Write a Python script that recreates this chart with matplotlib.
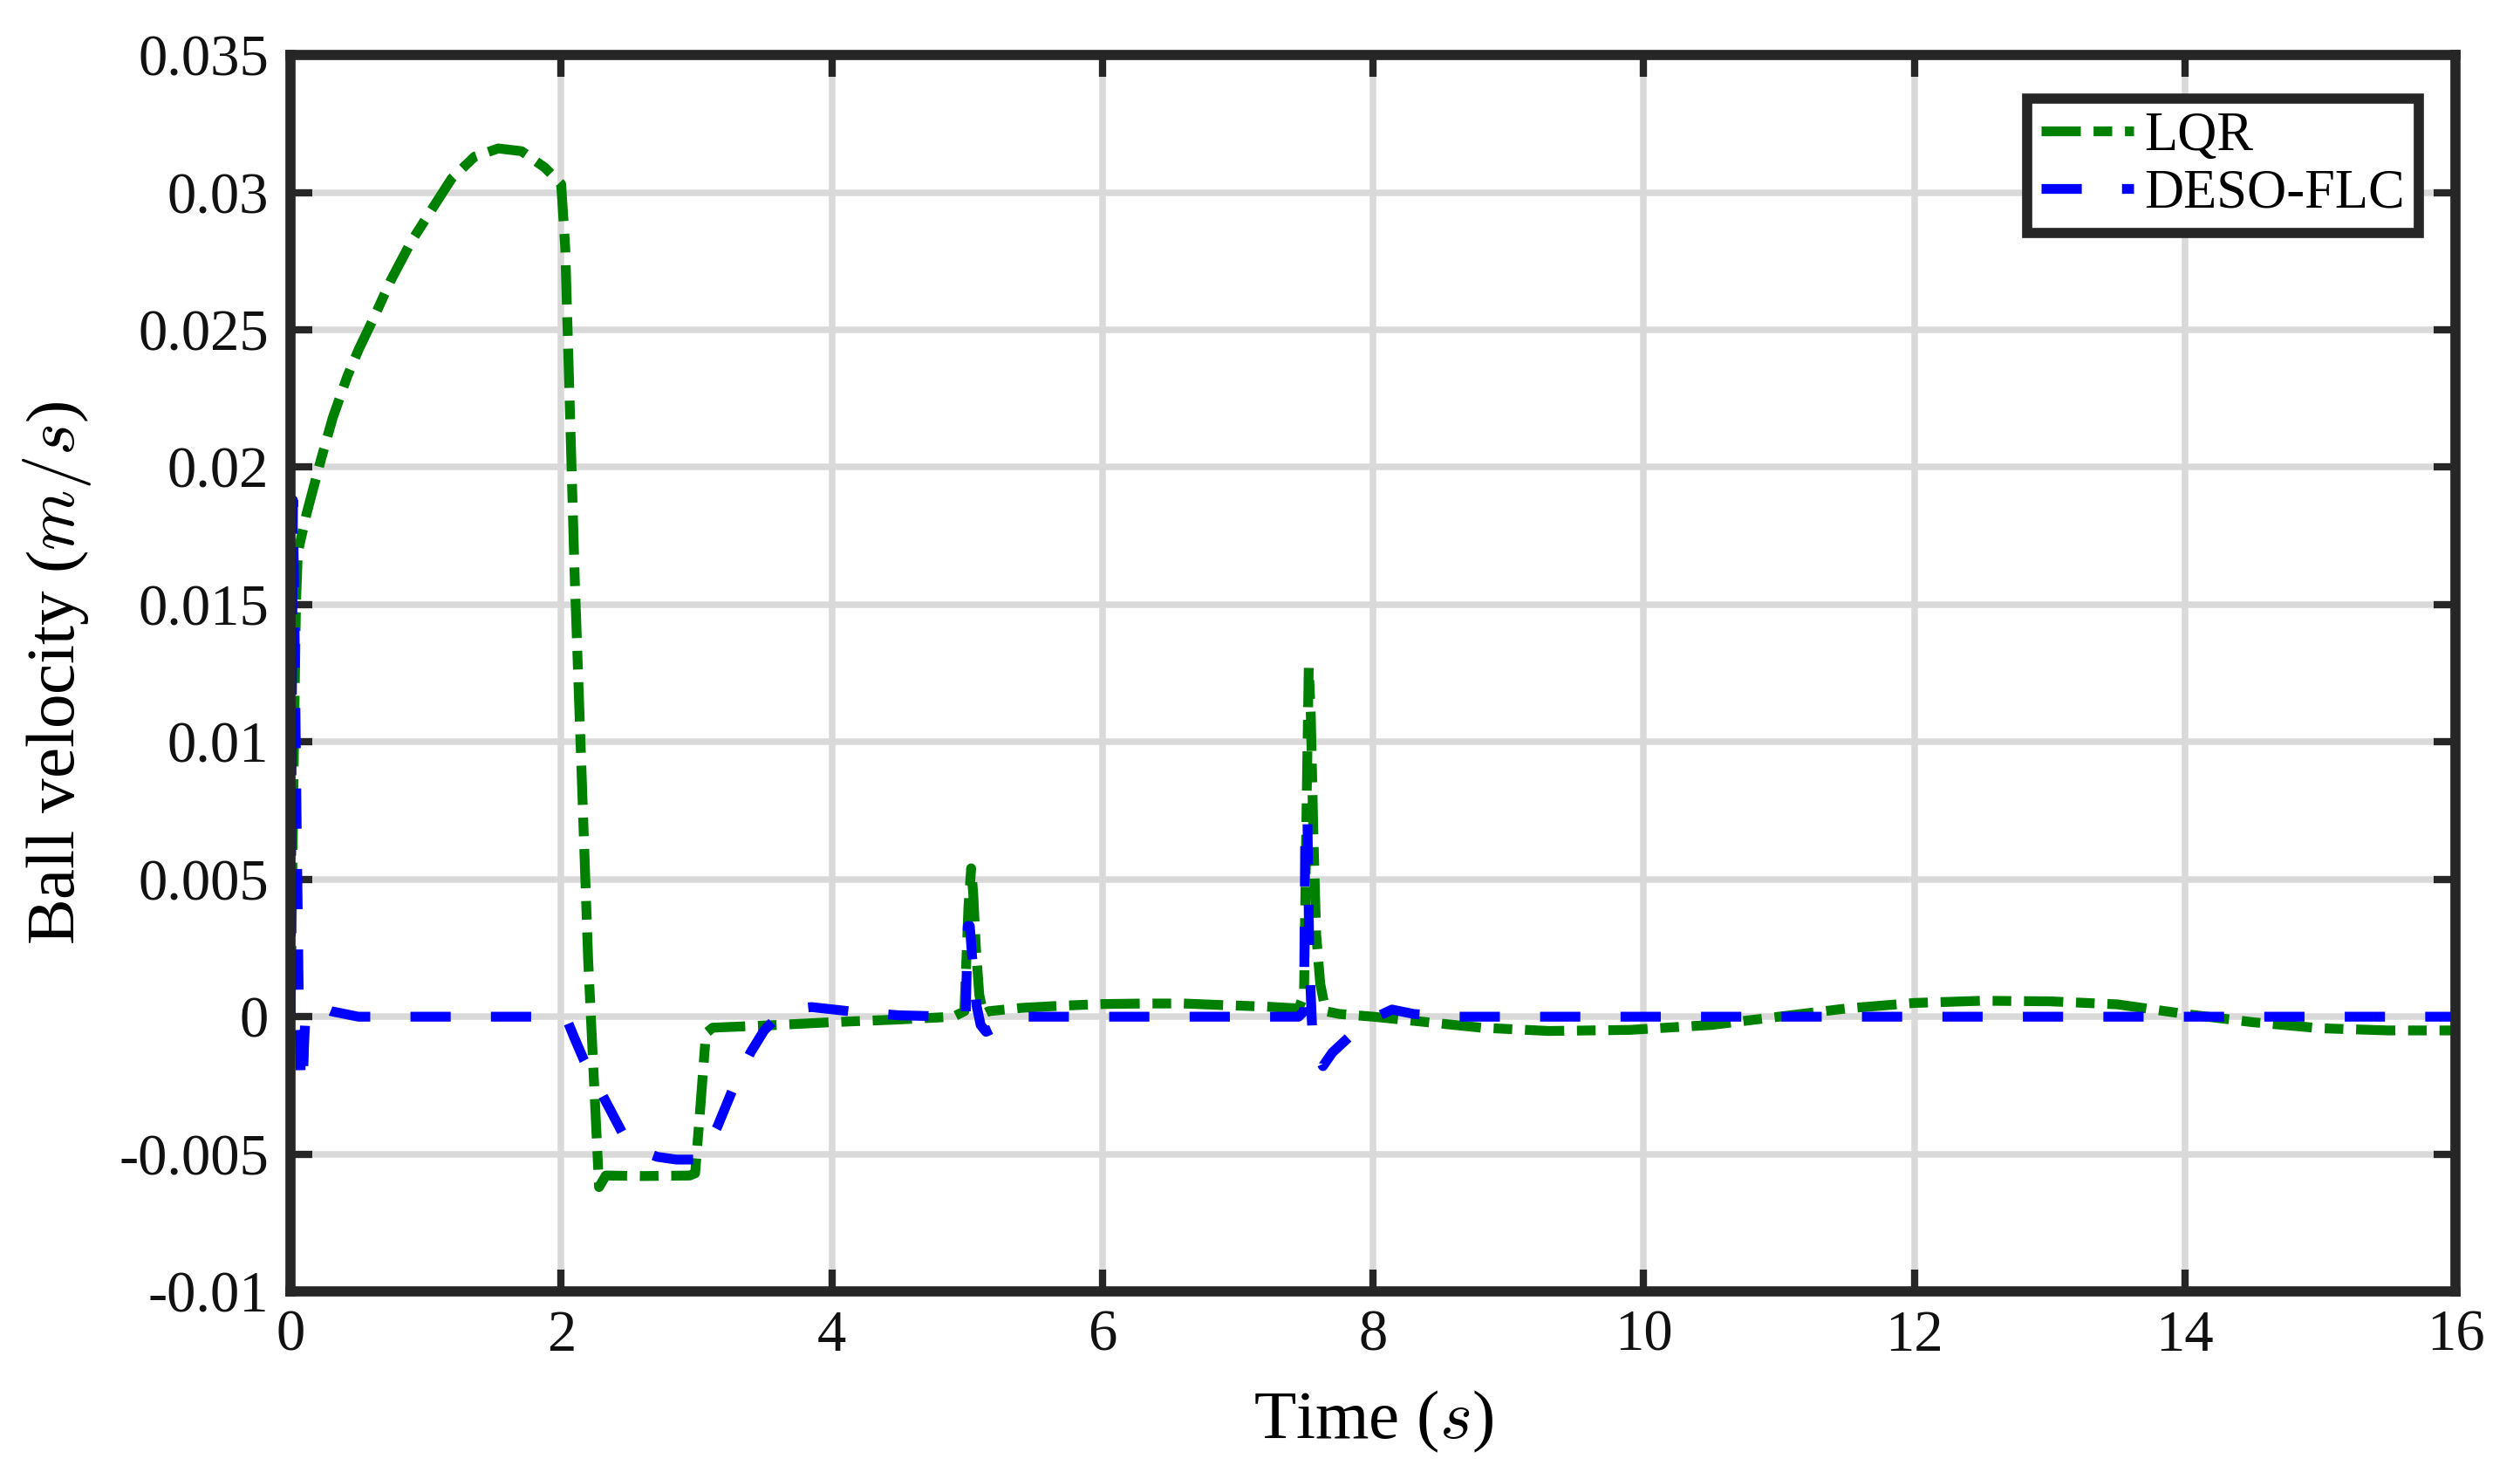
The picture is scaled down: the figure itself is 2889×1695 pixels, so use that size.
import matplotlib
matplotlib.use('Agg')
import matplotlib.pyplot as plt

plt.rcParams['font.family'] = ['Liberation Serif', 'DejaVu Serif']
plt.rcParams['mathtext.fontset'] = 'cm'

# LQR response
t_lqr = [0, 0.02, 0.04, 0.054, 0.118, 0.226, 0.312, 0.419, 0.505, 0.612, 0.741, 0.891,
         1.02, 1.19, 1.36, 1.535, 1.707, 1.88, 2.0, 2.03, 2.1, 2.2, 2.28, 2.33, 2.6,
         2.95, 2.99, 3.03, 3.07, 3.12, 3.6, 4.0, 4.5, 4.9, 4.98, 5.01, 5.03, 5.045,
         5.065, 5.09, 5.12, 5.16, 5.4, 5.7, 6.0, 6.3, 6.6, 6.9, 7.2, 7.45, 7.49, 7.51,
         7.525, 7.54, 7.56, 7.58, 7.61, 7.65, 7.75, 8.0, 8.4, 8.8, 9.3, 9.9, 10.5,
         11.0, 11.5, 12.0, 12.5, 13.0, 13.5, 14.0, 14.5, 15.0, 15.5, 16.0]
v_lqr = [0, 0.008, 0.015, 0.0169, 0.0183, 0.0203, 0.0218, 0.0233, 0.0243, 0.0254,
         0.0268, 0.0282, 0.0292, 0.0305, 0.0313, 0.0316, 0.0315, 0.0309, 0.0303,
         0.028, 0.016, 0.002, -0.0062, -0.00578, -0.0058, -0.00578, -0.0057,
         -0.0032, -0.0006, -0.0004, -0.0003, -0.0002, -0.0001, 0.0, 0.0002, 0.004,
         0.0054, 0.0045, 0.0025, 0.0008, 0.0001, 0.0002, 0.00032, 0.0004, 0.00046,
         0.00048, 0.00048, 0.00042, 0.00037, 0.0003, 0.0008, 0.008, 0.0127, 0.011,
         0.0065, 0.003, 0.0012, 0.0002, 0.0001, 0.0, -0.0002, -0.0004, -0.00052,
         -0.00048, -0.0003, 0.0, 0.0003, 0.0005, 0.00058, 0.00056, 0.00045, 0.0001,
         -0.0002, -0.00042, -0.0005, -0.0005]

# DESO-FLC response
t_deso = [0, 0.008, 0.018, 0.03, 0.045, 0.06, 0.075, 0.09, 0.1, 0.11, 0.15, 0.2, 0.3,
          0.5, 2.0, 2.05, 2.1, 2.17, 2.31, 2.46, 2.6, 2.71, 2.85, 3.0, 3.08, 3.155,
          3.28, 3.4, 3.5, 3.6, 3.75, 3.85, 4.2, 4.5, 4.9, 4.99, 5.005, 5.02, 5.04,
          5.07, 5.1, 5.14, 5.25, 5.4, 7.45, 7.49, 7.5, 7.515, 7.53, 7.55, 7.6, 7.63,
          7.7, 7.88, 8.05, 8.14, 8.3, 8.6, 16.0]
v_deso = [0, 0.01, 0.0188, 0.014, 0.007, 0.001, -0.002, -0.0026, -0.001, 0.0, 0.0003,
          0.0004, 0.0002, 0.0, 0.0, -0.0002, -0.0008, -0.0016, -0.0029, -0.0043,
          -0.0049, -0.0051, -0.0052, -0.0052, -0.0047, -0.004, -0.0025, -0.0013,
          -0.0005, 0.0, 0.0003, 0.00035, 0.00016, 0.00005, 0.0, 0.0001, 0.0033,
          0.0033, 0.002, 0.0004, -0.0003, -0.00055, -0.0003, 0.0, 0.0, 0.0002,
          0.0073, 0.0073, 0.002, -0.0004, -0.0015, -0.0018, -0.0013, -0.00048,
          0.00005, 0.00026, 0.0001, 0.0, 0.0]

xticks = [0, 2, 4, 6, 8, 10, 12, 14, 16]
yticks = [-0.01, -0.005, 0, 0.005, 0.01, 0.015, 0.02, 0.025, 0.03, 0.035]
ytick_labels = ['-0.01', '-0.005', '0', '0.005', '0.01', '0.015', '0.02', '0.025',
                '0.03', '0.035']

dark = '#262626'

fig = plt.figure(figsize=(2889 / 300, 1695 / 300), dpi=300)
ax = fig.add_axes([0.1153, 0.1268, 0.8591, 0.8360])

ax.grid(True, color='#d9d9d9', linewidth=1.8)
ax.set_axisbelow(True)

ax.plot(t_lqr, v_lqr, color='#008000', lw=2.7, dashes=(4.0, 1.3, 1.9, 1.3),
        label='LQR')
ax.plot(t_deso, v_deso, color='#0000ff', lw=2.7, dashes=(4.1, 4.1),
        label='DESO-FLC')

ax.set_xlim(0, 16)
ax.set_ylim(-0.01, 0.035)
ax.set_xticks(xticks)
ax.set_xticklabels([str(x) for x in xticks])
ax.set_yticks(yticks)
ax.set_yticklabels(ytick_labels)

ax.tick_params(direction='in', length=6, width=2, top=True, right=True,
               color=dark, labelsize=16, labelcolor='#111111')
ax.tick_params(axis='x', pad=5)
ax.tick_params(axis='y', pad=6)
for s in ax.spines.values():
    s.set_linewidth(2.8)
    s.set_color(dark)

ax.set_xlabel('Time ($s$)', fontsize=19)
ax.set_ylabel('Ball velocity ($m/s$)', fontsize=19)
ax.xaxis.set_label_coords(0.5, -0.079)
ax.yaxis.set_label_coords(-0.091, 0.5)

leg = ax.legend(loc='upper right', bbox_to_anchor=(0.983, 0.965), fontsize=15,
                fancybox=False, framealpha=1, edgecolor=dark, handlelength=1.7,
                handletextpad=0.2, borderpad=0.25, labelspacing=0.12,
                borderaxespad=0)
leg.get_frame().set_linewidth(2.8)

fig.savefig('out.png', dpi=300)
